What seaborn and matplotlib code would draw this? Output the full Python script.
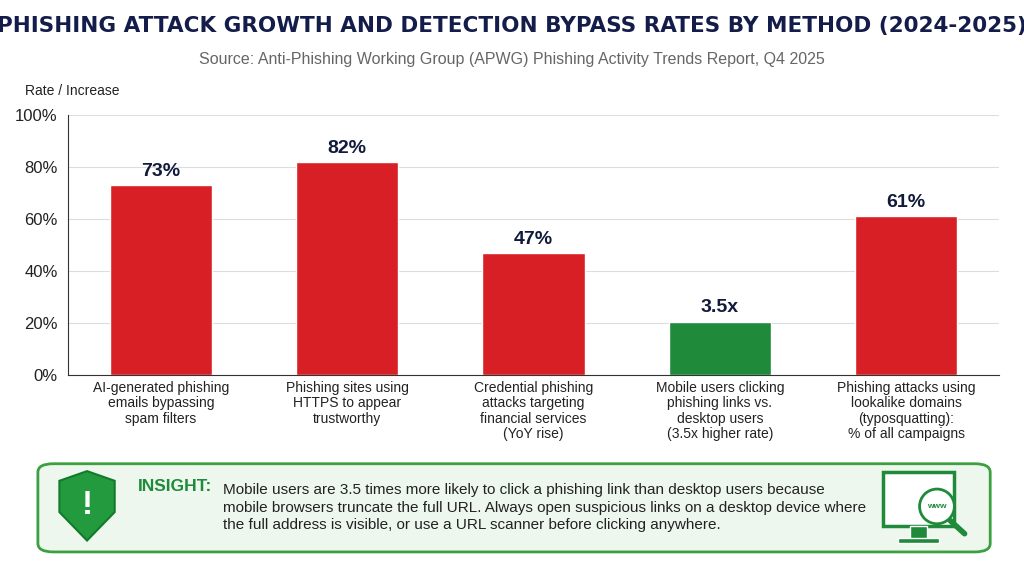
import pandas as pd
import matplotlib.pyplot as plt
import seaborn as sns
from matplotlib.patches import FancyBboxPatch, Polygon, Rectangle, Ellipse

categories = ['AI-generated phishing\nemails bypassing\nspam filters',
              'Phishing sites using\nHTTPS to appear\ntrustworthy',
              'Credential phishing\nattacks targeting\nfinancial services\n(YoY rise)',
              'Mobile users clicking\nphishing links vs.\ndesktop users\n(3.5x higher rate)',
              'Phishing attacks using\nlookalike domains\n(typosquatting):\n% of all campaigns']
values = [73, 82, 47, 20.5, 61]
labels = ['73%', '82%', '47%', '3.5x', '61%']
colors = ['#d91f26', '#d91f26', '#d91f26', '#1e8a3a', '#d91f26']

sns.set_style("whitegrid")
plt.rcParams['font.family'] = ['Liberation Sans', 'DejaVu Sans']

df = pd.DataFrame({'cat': categories, 'val': values})
fig = plt.figure(figsize=(10.24, 5.69), dpi=100)
ax = fig.add_axes([0.066, 0.341, 0.91, 0.457])
sns.barplot(data=df, x='cat', y='val', hue='cat', palette=colors, legend=False,
            width=0.55, ax=ax, saturation=1)
ax.set_ylim(0, 100)
ax.set_xlim(-0.5, 4.5)
ax.set_yticks(range(0, 101, 20))
ax.set_yticklabels([f'{v}%' for v in range(0, 101, 20)], fontsize=12, color='#222')
ax.set_xticks(range(5))
ax.set_xticklabels(categories, fontsize=10, color='#222', linespacing=1.15)
ax.tick_params(axis='x', length=0, pad=4)
ax.set_xlabel('')
ax.set_ylabel('')
ax.grid(axis='x', visible=False)
ax.grid(axis='y', color='#dddddd', lw=0.8)
for s in ['top', 'right']:
    ax.spines[s].set_visible(False)
for s in ['left', 'bottom']:
    ax.spines[s].set_color('#333')
for i, (v, t) in enumerate(zip(values, labels)):
    ax.text(i, v + 2, t, ha='center', va='bottom', fontsize=14, fontweight='bold', color='#111a3a')

fig.text(0.5, 0.955, 'PHISHING ATTACK GROWTH AND DETECTION BYPASS RATES BY METHOD (2024-2025)',
         ha='center', va='center', fontsize=15.5, fontweight='bold', color='#141c4a',
         family=['DejaVu Sans'])
fig.text(0.5, 0.895, 'Source: Anti-Phishing Working Group (APWG) Phishing Activity Trends Report, Q4 2025',
         ha='center', va='center', fontsize=11.5, color='#666')
fig.text(0.024, 0.84, 'Rate / Increase', ha='left', va='center', fontsize=10, color='#222')

# insight box
box = FancyBboxPatch((0.037, 0.03), 0.93, 0.155, boxstyle='round,pad=0,rounding_size=0.015',
                     transform=fig.transFigure, fc='#eef7ee', ec='#3aa040', lw=2)
fig.patches.append(box)
shield = Polygon([(0.058, 0.155), (0.085, 0.172), (0.112, 0.155), (0.112, 0.1),
                  (0.085, 0.05), (0.058, 0.1)], closed=True, transform=fig.transFigure,
                 fc='#239a3e', ec='#137a2a', lw=1.5)
fig.patches.append(shield)
fig.text(0.085, 0.112, '!', ha='center', va='center', fontsize=24, fontweight='bold', color='white')
fig.text(0.135, 0.145, 'INSIGHT:', ha='left', va='center', fontsize=12.5, fontweight='bold', color='#1e8a3a')
fig.text(0.218, 0.108,
         'Mobile users are 3.5 times more likely to click a phishing link than desktop users because\n'
         'mobile browsers truncate the full URL. Always open suspicious links on a desktop device where\n'
         'the full address is visible, or use a URL scanner before clicking anywhere.',
         ha='left', va='center', fontsize=11, color='#222', linespacing=1.3)
# monitor icon
fig.patches.append(Rectangle((0.862, 0.075), 0.07, 0.095, transform=fig.transFigure,
                             fc='white', ec='#1e8a3a', lw=2.5))
fig.patches.append(Rectangle((0.889, 0.052), 0.016, 0.023, transform=fig.transFigure, fc='#1e8a3a'))
fig.patches.append(Rectangle((0.877, 0.046), 0.04, 0.008, transform=fig.transFigure, fc='#1e8a3a'))
fig.patches.append(Ellipse((0.915, 0.11), 0.034, 0.061, transform=fig.transFigure, fc='white', ec='#1e8a3a', lw=2))
fig.text(0.915, 0.11, 'www', ha='center', va='center', fontsize=6, fontweight='bold', color='#1e8a3a')
fig.lines.append(plt.Line2D([0.928, 0.942], [0.085, 0.062], transform=fig.transFigure, color='#1e8a3a', lw=4))

fig.savefig('out.png', dpi=100)
plt.close(fig)
